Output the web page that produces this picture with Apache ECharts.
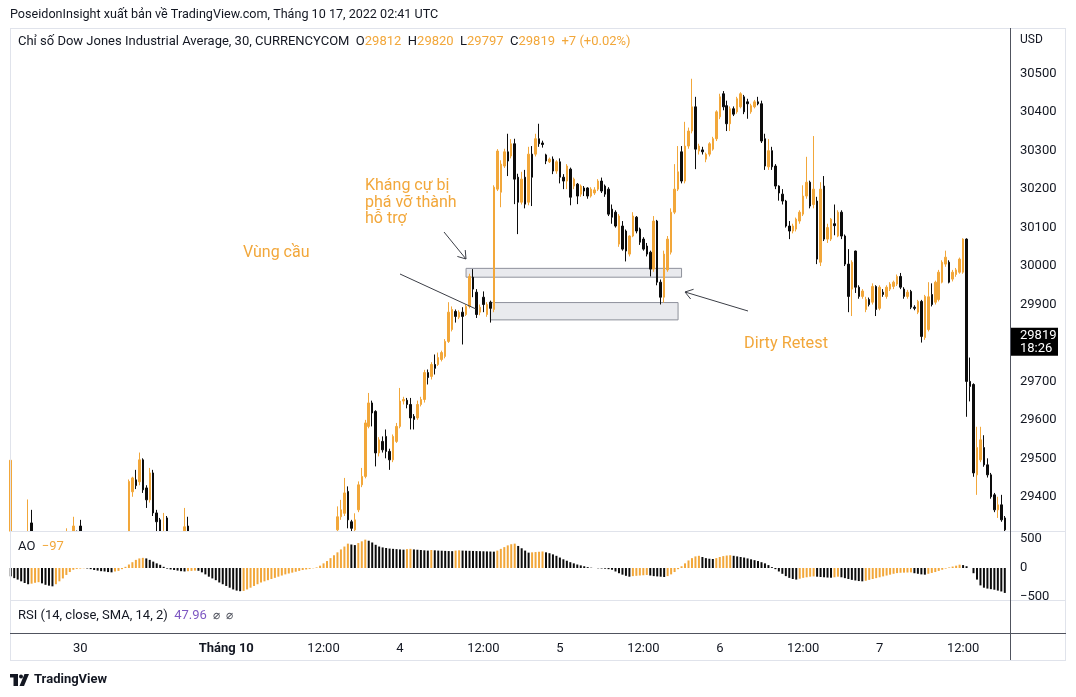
<!DOCTYPE html>
<html>
<head>
<meta charset="utf-8">
<title>Dow Jones 30m</title>
<script src="https://cdn.jsdelivr.net/npm/echarts@6.0.0/dist/echarts.min.js"></script>
<style>
  html, body { margin: 0; padding: 0; background: #fff; }
  #main { width: 1076px; height: 697px; }
</style>
</head>
<body>
<div id="main"></div>
<script>
// 30 phút, 29/9 -> 7/10/2022
var opens = [
  29300,29300,29250,29230,29220,29290,29332,29270,29230,29250,
  29220,29240,29255,29240,29260,29280,29270,29290,29295,29310,
  29324,29290,29260,29275,29250,29230,29245,29260,29240,29270,
  29290,29280,29300,29295,29280,29413,29444,29439,29496,29423,
  29392,29462,29358,29340,29290,29345,29280,29200,29150,29190,
  29250,29324,29200,29100,29000,29050,28950,28880,28820,28860,
  28780,28730,28760,28800,28830,28810,28850,28880,28870,28900,
  28890,28920,28940,28930,28960,28975,28965,28990,29010,29000,
  29030,29050,29040,29070,29090,29080,29110,29130,29120,29150,
  29170,29200,29230,29270,29314,29348,29357,29414,29335,29314,
  29366,29431,29453,29583,29644,29622,29514,29544,29557,29518,
  29496,29544,29583,29649,29651,29640,29609,29605,29640,29653,
  29723,29713,29744,29744,29757,29765,29804,29835,29882,29867,
  29880,29874,29895,29971,29932,29880,29919,29874,29906,29887,
  30200,30192,30260,30297,30286,30318,30231,30166,30231,30166,
  30291,30291,30331,30320,30289,30271,30278,30247,30271,30231,
  30221,30252,30208,30213,30187,30203,30203,30182,30190,30200,
  30221,30208,30200,30148,30140,30057,30104,30091,30031,30078,
  30127,30096,30070,30052,30036,29992,30117,29958,29919,29990,
  30036,30140,30200,30297,30221,30312,30351,30414,30299,30302,
  30278,30291,30304,30331,30388,30448,30417,30370,30409,30401,
  30414,30440,30427,30401,30414,30427,30422,30331,30258,30300,
  30260,30208,30187,30169,30104,30091,30096,30117,30135,30182,
  30218,30160,30169,30010,30208,30070,30070,30110,30078,30140,
  30078,30005,29940,30039,29945,29921,29887,29913,29906,29947,
  29890,29932,29921,29940,29947,29953,29973,29940,29921,29934,
  29893,29880,29908,29814,29835,29926,29906,29913,29958,30005,
  30010,29966,29978,29984,29984,30070,29700,29692,29457,29496,
  29528,29483,29457,29405,29366,29379,29345
];
var closes = [
  29495,29250,29230,29220,29290,29300,29270,29230,29250,29220,
  29240,29255,29240,29260,29280,29270,29295,29300,29324,29300,
  29290,29260,29275,29250,29230,29245,29260,29240,29270,29290,
  29280,29300,29295,29290,29440,29449,29429,29496,29418,29392,
  29462,29358,29335,29290,29300,29280,29200,29150,29190,29250,
  29322,29200,29100,29000,29050,28950,28880,28820,28860,28780,
  28730,28760,28800,28830,28810,28850,28880,28870,28900,28890,
  28920,28940,28930,28960,28975,28965,28990,29010,29000,29030,
  29050,29040,29070,29090,29080,29110,29130,29120,29150,29170,
  29200,29230,29270,29300,29348,29366,29410,29340,29318,29340,
  29431,29453,29592,29644,29618,29514,29548,29522,29518,29496,
  29557,29583,29649,29653,29640,29605,29601,29640,29653,29723,
  29710,29744,29734,29762,29775,29804,29880,29887,29869,29880,
  29869,29895,29973,29940,29874,29893,29900,29900,29890,30205,
  30299,30265,30297,30273,30318,30226,30166,30226,30161,30291,
  30231,30331,30318,30316,30273,30278,30247,30271,30231,30221,
  30260,30179,30226,30182,30208,30195,30182,30200,30198,30221,
  30195,30187,30135,30127,30104,30130,30044,30039,30078,30130,
  30091,30062,30044,30031,29992,30117,29958,29919,30031,30070,
  30140,30200,30245,30221,30312,30351,30414,30304,30312,30297,
  30291,30318,30331,30401,30440,30414,30370,30409,30395,30435,
  30448,30401,30422,30417,30427,30422,30325,30260,30300,30258,
  30208,30190,30169,30104,30091,30104,30122,30140,30182,30218,
  30156,30200,30018,30200,30070,30100,30122,30105,30140,30078,
  30005,29921,30010,29945,29921,29935,29913,29900,29947,29887,
  29945,29926,29945,29953,29958,29973,29945,29921,29932,29893,
  29890,29908,29817,29921,29920,29900,29958,29984,30010,30023,
  29958,29984,29990,30018,30070,29700,29687,29462,29528,29548,
  29483,29457,29400,29366,29379,29340,29314
];
var lows = [
  29280,29230,29210,29200,29215,29280,29250,29200,29220,29205,
  29210,29232,29230,29235,29252,29262,29265,29284,29290,29292,
  29282,29250,29255,29242,29220,29225,29240,29232,29236,29262,
  29272,29276,29288,29280,29270,29400,29420,29430,29410,29371,
  29385,29350,29300,29270,29280,29260,29190,29135,29140,29182,
  29240,29190,29090,28985,28990,28940,28870,28805,28810,28770,
  28715,28720,28750,28790,28800,28805,28840,28860,28865,28880,
  28885,28912,28920,28925,28950,28955,28960,28982,28990,28995,
  29022,29030,29035,29062,29070,29075,29100,29110,29115,29142,
  29162,29190,29220,29260,29300,29340,29350,29318,29305,29305,
  29360,29425,29448,29578,29583,29479,29505,29515,29500,29470,
  29490,29540,29578,29640,29630,29575,29575,29600,29635,29645,
  29692,29705,29718,29740,29752,29760,29800,29830,29853,29862,
  29796,29870,29890,29919,29865,29872,29880,29868,29853,29880,
  30195,30153,30255,30234,30280,30161,30083,30160,30150,30158,
  30156,30285,30310,30308,30265,30268,30239,30240,30215,30200,
  30200,30158,30200,30161,30180,30182,30175,30178,30185,30195,
  30190,30180,30130,30110,30100,30050,30040,30012,30025,30075,
  30085,30055,30040,30025,29973,29985,29950,29900,29905,29985,
  30030,30135,30195,30215,30215,30305,30345,30252,30290,30290,
  30270,30285,30300,30325,30382,30405,30351,30351,30390,30396,
  30410,30395,30383,30396,30410,30418,30320,30250,30250,30250,
  30200,30170,30160,30100,30070,30085,30090,30110,30130,30175,
  30150,30150,30005,30000,30065,30060,30065,30080,30075,30070,
  30000,29880,29870,29930,29915,29915,29880,29895,29900,29870,
  29885,29920,29915,29935,29940,29948,29940,29915,29915,29888,
  29885,29875,29801,29808,29830,29895,29900,29908,29955,29998,
  29955,29960,29972,29980,29980,29608,29648,29452,29405,29490,
  29478,29450,29395,29360,29345,29335,29300
];
var highs = [
  29515,29305,29260,29240,29300,29393,29366,29280,29260,29255,
  29248,29262,29260,29268,29290,29288,29318,29305,29348,29312,
  29340,29295,29280,29280,29256,29250,29266,29265,29275,29296,
  29298,29305,29308,29302,29445,29452,29470,29515,29500,29430,
  29475,29470,29366,29345,29358,29350,29290,29210,29200,29280,
  29371,29348,29210,29110,29060,29060,28960,28890,28870,28870,
  28790,28770,28810,28840,28845,28860,28890,28895,28910,28912,
  28930,28950,28948,28968,28985,28982,29000,29018,29020,29038,
  29058,29060,29078,29098,29100,29118,29140,29138,29160,29180,
  29210,29240,29285,29306,29375,29392,29449,29427,29340,29357,
  29440,29475,29600,29670,29650,29625,29555,29557,29575,29525,
  29562,29592,29683,29660,29657,29657,29615,29650,29660,29730,
  29731,29750,29770,29775,29780,29810,29906,29895,29887,29885,
  29893,29900,29980,29992,29940,29900,29934,29906,29910,30210,
  30304,30275,30305,30344,30330,30331,30240,30245,30250,30310,
  30312,30344,30370,30326,30292,30282,30285,30275,30280,30239,
  30265,30256,30230,30216,30212,30208,30205,30205,30205,30226,
  30230,30212,30205,30160,30145,30135,30117,30095,30080,30140,
  30130,30100,30075,30060,30040,30130,30120,29965,30040,30078,
  30150,30265,30312,30312,30375,30360,30487,30440,30318,30310,
  30295,30322,30336,30405,30448,30455,30430,30415,30415,30440,
  30452,30445,30435,30422,30432,30440,30430,30344,30330,30310,
  30265,30210,30200,30172,30117,30110,30126,30145,30210,30284,
  30222,30338,30180,30218,30234,30110,30125,30160,30145,30145,
  30082,30044,30015,30040,29950,29940,29920,29918,29955,29950,
  29950,29940,29950,29958,29962,29978,29982,29945,29938,29938,
  29898,29912,29912,29925,29958,29955,29962,29990,30015,30040,
  30015,29990,29995,30022,30072,30072,29762,29695,29582,29582,
  29560,29500,29462,29410,29400,29405,29350
];
// Awesome Oscillator, đọc từ khung dưới
var aoValues = [
  -144,-175,-200,-230,-259,-280,-270,-255,-245,-265,
  -290,-305,-316,-280,-230,-180,-120,-70,-30,-15,
  -10,-5,-8,-20,-35,-45,-55,-60,-70,-75,
  -60,-50,-20,20,60,100,140,165,175,165,
  140,110,80,55,20,-10,-25,-35,-45,-55,
  -60,-55,-50,-45,-48,-75,-110,-150,-180,-210,
  -250,-280,-310,-340,-370,-390,-400,-395,-370,-340,
  -310,-280,-250,-230,-210,-190,-170,-150,-130,-110,
  -95,-80,-65,-50,-35,-25,-15,-5,10,40,
  80,120,170,220,270,320,370,420,405,395,
  430,460,489,470,440,400,370,355,345,335,
  330,325,320,316,325,330,320,315,310,305,
  300,310,305,300,298,295,292,290,300,305,
  300,298,296,294,292,290,288,286,284,282,
  300,330,360,390,410,420,380,340,300,265,
  270,275,280,285,270,255,235,210,180,150,
  125,100,80,60,45,30,15,5,0,-5,
  -8,-12,-20,-30,-60,-90,-115,-135,-150,-140,
  -135,-130,-125,-120,-130,-140,-145,-150,-155,-140,
  -110,-70,-20,30,80,130,170,200,210,190,
  170,160,155,170,190,205,215,220,210,200,
  190,180,165,150,135,120,100,80,50,15,
  -20,-60,-100,-140,-170,-190,-200,-185,-170,-160,
  -150,-145,-150,-155,-160,-165,-168,-160,-150,-160,
  -175,-190,-205,-215,-225,-230,-220,-205,-190,-175,
  -160,-145,-130,-115,-100,-88,-82,-80,-78,-76,
  -90,-100,-110,-115,-100,-85,-70,-50,-30,-10,
  10,25,40,57,50,30,0,-90,-200,-300,
  -340,-355,-365,-375,-390,-405,-430
];
var slotCount = 288;
var timeTicks = {20: '30', 62: 'Tháng 10', 90: '12:00', 112: '4', 136: '12:00', 158: '5',
                 182: '12:00', 204: '6', 228: '12:00', 250: '7', 274: '12:00'};
var priceTicks = [29400, 29500, 29600, 29700, 29800, 29900, 30000, 30100, 30200, 30300, 30400, 30500];
var aoTicks = [500, 0, -500];
var resistanceZone = {from: 131, to: 193, top: 29994, bottom: 29971};
var demandZone = {from: 138, to: 192, top: 29905, bottom: 29860};
var lastPrice = 29819;

var ORANGE = '#F2A73A';
var BLACK = '#0c0c0c';
var TEXT = '#131722';
var FRAME = '#E0E3EB';
var AXIS = '#50535E';
var FONT = 'Roboto, "Noto Sans", sans-serif';

var cats = [];
for (var i = 0; i < slotCount; i++) cats.push(timeTicks[i] || '');

var candleData = opens.map(function (o, i) {
  return [o, closes[i], lows[i], highs[i]];
});

var chartDom = document.getElementById('main');
var myChart = echarts.init(chartDom);

function xAxisFor(k) {
  return {
    type: 'category', gridIndex: k, data: cats, boundaryGap: true, z: 6,
    axisLine: {show: false}, axisTick: {show: false}, splitLine: {show: false},
    axisLabel: k === 2 ? {
      show: true, interval: 0, margin: 9, color: TEXT, fontSize: 13, fontFamily: FONT,
      formatter: function (v) { return v === 'Tháng 10' ? '{b|' + v + '}' : v; },
      rich: {b: {fontWeight: 'bold', fontSize: 13, color: TEXT, fontFamily: FONT}}
    } : {show: false}
  };
}

var option = {
  animation: false,
  textStyle: {fontFamily: FONT},
  grid: [
    {left: 9, right: 66, top: 28, height: 503},
    {left: 9, right: 66, top: 531, height: 69},
    {left: 9, right: 66, top: 600, height: 33}
  ],
  xAxis: [xAxisFor(0), xAxisFor(1), xAxisFor(2)],
  yAxis: [
    {
      gridIndex: 0, position: 'right', min: 29311, max: 30619, z: 6,
      splitLine: {show: false}, axisLine: {show: false}, axisTick: {show: false},
      axisLabel: {customValues: priceTicks, color: TEXT, fontSize: 13, margin: 10, fontFamily: FONT,
                  formatter: function (v) { return String(v); }}
    },
    {
      gridIndex: 1, position: 'right', min: -552, max: 638, z: 6,
      splitLine: {show: false}, axisLine: {show: false}, axisTick: {show: false},
      axisLabel: {
        customValues: aoTicks, color: TEXT, fontSize: 13, margin: 10, fontFamily: FONT,
        formatter: function (v) { return v < 0 ? '\u2212' + (-v) : String(v); }
      }
    },
    {
      gridIndex: 2, position: 'right', min: 0, max: 100,
      splitLine: {show: false}, axisLine: {show: false}, axisTick: {show: false},
      axisLabel: {show: false}
    }
  ],
  series: [
    {
      name: 'DJI', type: 'candlestick', xAxisIndex: 0, yAxisIndex: 0, z: 2,
      data: candleData, clip: true, barWidth: 2,
      itemStyle: {color: ORANGE, color0: BLACK, borderColor: ORANGE, borderColor0: BLACK, borderWidth: 1},
      markArea: {
        silent: true,
        itemStyle: {color: 'rgba(215, 217, 224, 0.55)', borderColor: '#8E919B', borderWidth: 1},
        data: [
          [{xAxis: resistanceZone.from, yAxis: resistanceZone.top}, {xAxis: resistanceZone.to, yAxis: resistanceZone.bottom}],
          [{xAxis: demandZone.from, yAxis: demandZone.top}, {xAxis: demandZone.to, yAxis: demandZone.bottom}]
        ]
      }
    },
    {
      name: 'AO', type: 'bar', xAxisIndex: 1, yAxisIndex: 1, data: aoValues, barWidth: 2, z: 4,
      itemStyle: {
        color: function (p) {
          var i = p.dataIndex;
          return (i > 0 && aoValues[i] >= aoValues[i - 1]) ? ORANGE : BLACK;
        }
      }
    }
  ]
};
myChart.setOption(option);

// khung, chữ và ghi chú
function line(x1, y1, x2, y2, color, w) {
  return {type: 'line', z: 50, silent: true, shape: {x1: x1, y1: y1, x2: x2, y2: y2},
          style: {stroke: color, lineWidth: w || 1}};
}
function arrow(x1, y1, x2, y2, color) {
  var dx = x2 - x1, dy = y2 - y1, len = Math.sqrt(dx * dx + dy * dy);
  var bx = -dx / len, by = -dy / len, a = 0.6, h = 9;
  var c = Math.cos(a), s = Math.sin(a);
  var p1 = [x2 + h * (bx * c - by * s), y2 + h * (bx * s + by * c)];
  var p2 = [x2 + h * (bx * c + by * s), y2 + h * (-bx * s + by * c)];
  return [
    line(x1, y1, x2, y2, color),
    {type: 'polyline', z: 50, silent: true, shape: {points: [p1, [x2, y2], p2]},
     style: {stroke: color, lineWidth: 1, fill: null}}
  ];
}
function text(x, y, str, font, fill, extra) {
  var st = {text: str, x: x, y: y, font: font, fill: fill, textVerticalAlign: 'middle'};
  if (extra) for (var k in extra) st[k] = extra[k];
  return {type: 'text', z: 60, silent: true, style: st};
}
function rich(size) {
  return {
    a: {fill: TEXT, font: size + 'px ' + FONT},
    v: {fill: ORANGE, font: size + 'px ' + FONT},
    p: {fill: '#7E57C2', font: size + 'px ' + FONT},
    g: {fill: '#50535E', font: (size - 1) + 'px ' + FONT}
  };
}

var py = myChart.convertToPixel({yAxisIndex: 0}, lastPrice);
var ANN = '#3B3E46';
var graphics = [
  // phần nến tràn xuống dưới khung giá bị che
  {type: 'rect', z: 3, silent: true, shape: {x: 0, y: 531.5, width: 1076, height: 166}, style: {fill: '#fff'}},
  // che phần dưới nhãn -500 như khung RSI
  {type: 'rect', z: 40, silent: true, shape: {x: 1011, y: 601, width: 54, height: 31}, style: {fill: '#fff'}},
  line(10, 28.5, 1066, 28.5, FRAME),
  line(10.5, 28, 10.5, 660, FRAME),
  line(1065.5, 28, 1065.5, 660, FRAME),
  line(10, 660.5, 1066, 660.5, FRAME),
  line(10, 531.5, 1066, 531.5, FRAME),
  line(10, 600.5, 1066, 600.5, FRAME),
  line(10, 633.5, 1066, 633.5, AXIS),
  line(1010.5, 28, 1010.5, 660, AXIS),
  text(10, 15, 'PoseidonInsight xuất bản về TradingView.com, Tháng 10 17, 2022 02:41 UTC', '12.6px ' + FONT, TEXT),
  text(18, 42, '{a|Chỉ số Dow Jones Industrial Average, 30, CURRENCYCOM}  {a|O}{v|29812}  {a|H}{v|29820}  {a|L}{v|29797}  {a|C}{v|29819}  {v|+7 (+0.02%)}',
       '13px ' + FONT, TEXT, {rich: rich(13)}),
  text(1020, 40, 'USD', '12px ' + FONT, TEXT),
  text(18, 547, '{a|AO}  {v|\u221297}', '13px ' + FONT, TEXT, {rich: rich(13)}),
  text(18, 616, '{a|RSI (14, close, SMA, 14, 2)}  {p|47.96}  {g|\u2300  \u2300}', '13px ' + FONT, TEXT, {rich: rich(13)}),
  // nhãn giá hiện tại
  {type: 'rect', z: 60, silent: true, shape: {x: 1011, y: py - 8, width: 47, height: 28}, style: {fill: '#000'}},
  text(1020, py, '29819', '13px ' + FONT, '#fff'),
  text(1020, py + 13, '18:26', '13px ' + FONT, '#fff'),
  // chú thích
  text(365, 178, 'Kháng cự bị\nphá vỡ thành\nhỗ trợ', '16px ' + FONT, ORANGE, {textVerticalAlign: 'top', lineHeight: 16.5}),
  text(243, 253, 'Vùng cầu', '16px ' + FONT, ORANGE),
  text(744, 344, 'Dirty Retest', '16.3px ' + FONT, ORANGE),
  line(400, 274, 476, 309, ANN),
  // logo
  {type: 'rect', z: 60, silent: true, shape: {x: 10, y: 674, width: 8, height: 3.5}, style: {fill: TEXT}},
  {type: 'rect', z: 60, silent: true, shape: {x: 13.5, y: 674, width: 4.5, height: 12}, style: {fill: TEXT}},
  {type: 'circle', z: 60, silent: true, shape: {cx: 21, cy: 676.5, r: 2}, style: {fill: TEXT}},
  {type: 'polygon', z: 60, silent: true, shape: {points: [[19.5, 686], [24.5, 674], [29, 674], [24, 686]]}, style: {fill: TEXT}},
  text(34, 680, 'TradingView', 'bold 13px ' + FONT, TEXT)
];
graphics = graphics.concat(arrow(444, 232, 466, 259, ANN), arrow(748, 311, 685, 292, ANN));
myChart.setOption({graphic: graphics});

window.addEventListener('resize', function () { myChart.resize(); });
</script>
</body>
</html>
